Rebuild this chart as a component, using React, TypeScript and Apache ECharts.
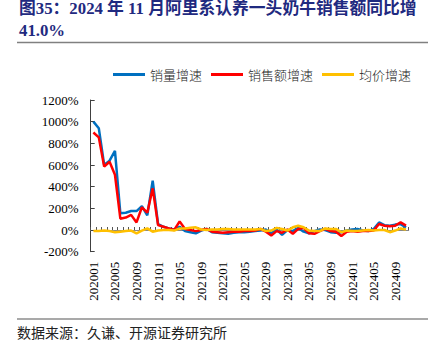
import React, { useEffect, useRef } from "react";
import * as echarts from "echarts";

const months: string[] = [
  "202001","202002","202003","202004","202005","202006","202007","202008","202009","202010","202011","202012",
  "202101","202102","202103","202104","202105","202106","202107","202108","202109","202110","202111","202112",
  "202201","202202","202203","202204","202205","202206","202207","202208","202209","202210","202211","202212",
  "202301","202302","202303","202304","202305","202306","202307","202308","202309","202310","202311","202312",
  "202401","202402","202403","202404","202405","202406","202407","202408","202409","202410","202411",
];

const volumeGrowth: number[] = [
  1000, 940, 600, 640, 730, 155, 160, 175, 175, 220, 135, 455,
  55, 30, 15, 5, 30, -10, -20, -30, -5, 10, -20, -25,
  -30, -35, -25, -20, -20, -15, -10, -5, 5, -30, 5, -45,
  0, -10, 20, -15, -30, -10, 5, 0, -20, -25, -20, -5,
  5, 10, -5, -10, 10, 70, 45, 40, 50, 55, 25,
];

const salesGrowth: number[] = [
  900, 855, 585, 630, 510, 105, 115, 140, 70, 210, 160, 385,
  45, 30, 15, 0, 80, 10, 0, -10, 0, 10, -15, -20,
  -25, -20, -15, -15, -10, -10, -5, 10, -15, -50, -10, -25,
  5, -35, 10, 20, -30, -35, -10, 10, -10, -15, -55, -15,
  -10, -15, -10, -10, -5, 55, 40, 35, 40, 70, 41,
];

const priceGrowth: number[] = [
  -10, -8, -5, -10, -20, -15, -10, -5, -30, -5, 15, -15,
  -5, 0, 0, -5, 15, 15, 20, 25, 5, 0, 5, 5,
  10, 10, 5, 5, 5, 5, 5, 10, -10, -5, 20, 10,
  -5, 25, 40, 25, -5, -10, -10, 15, 10, 10, -20, -5,
  -10, -10, -5, 0, -5, 0, 0, -20, -5, 15, 5,
];

const seriesNames: string[] = ["销量增速", "销售额增速", "均价增速"];
const seriesColors: string[] = ["#0070C0", "#FF0000", "#FFC000"];

const titleLine1 = "图35：2024 年 11 月阿里系认养一头奶牛销售额同比增";
const titleLine2 = "41.0%";
const sourceText = "数据来源：久谦、开源证券研究所";

const SERIF = "'Liberation Serif', 'Noto Sans CJK SC', serif";
const CJK = "'Noto Sans CJK SC', sans-serif";

export default function App() {
  const ref = useRef<HTMLDivElement>(null);

  useEffect(() => {
    if (!ref.current) return;
    const chart = echarts.init(ref.current, undefined, { renderer: "svg" });
    const data = [volumeGrowth, salesGrowth, priceGrowth];
    chart.setOption({
      animation: false,
      backgroundColor: "#ffffff",
      grid: { left: 90.7, right: 35.3, top: 100, bottom: 102.3, containLabel: false },
      legend: {
        data: seriesNames,
        left: 108,
        top: 63,
        icon: "rect",
        itemWidth: 32,
        itemHeight: 3,
        itemGap: 9,
        textStyle: { fontSize: 13, color: "#222", fontFamily: CJK, fontWeight: 300 },
      },
      xAxis: [
        {
          type: "category",
          data: months,
          boundaryGap: true,
          axisLine: { show: true, onZero: true, lineStyle: { color: "#888", width: 1 } },
          axisTick: { show: true, inside: true, length: 3, interval: 0, lineStyle: { color: "#555" } },
          axisLabel: { show: false },
          splitLine: { show: false },
        },
        {
          type: "category",
          data: months,
          position: "bottom",
          boundaryGap: true,
          axisLine: { show: false, onZero: false },
          axisTick: { show: false },
          axisLabel: {
            show: true,
            interval: 3,
            rotate: 90,
            margin: 10,
            fontSize: 13,
            color: "#000",
            fontFamily: SERIF,
          },
          splitLine: { show: false },
        },
      ],
      yAxis: {
        type: "value",
        min: -200,
        max: 1200,
        interval: 200,
        axisLine: { show: true, lineStyle: { color: "#404040", width: 1 } },
        axisTick: { show: true, inside: true, length: 4, lineStyle: { color: "#404040" } },
        axisLabel: {
          formatter: (v: number) => `${v}%`,
          fontSize: 13,
          color: "#000",
          fontFamily: SERIF,
          margin: 12,
        },
        splitLine: { show: false },
      },
      series: seriesNames.map((name, i) => ({
        name,
        type: "line",
        xAxisIndex: 0,
        data: data[i],
        symbol: "none",
        z: i + 2,
        lineStyle: { color: seriesColors[i], width: 2.5 },
        itemStyle: { color: seriesColors[i] },
      })),
      graphic: [
        {
          type: "text",
          left: 19,
          top: 0,
          style: {
            text: titleLine1,
            font: `bold 16.8px ${SERIF}`,
            fill: "#1f2a80",
          },
        },
        {
          type: "text",
          left: 19,
          top: 22,
          style: {
            text: titleLine2,
            font: `bold 16.8px ${SERIF}`,
            fill: "#1f2a80",
          },
        },
        {
          type: "line",
          shape: { x1: 17, y1: 42.5, x2: 428, y2: 42.5 },
          style: { stroke: "#808080", lineWidth: 1.5 },
        },
        {
          type: "line",
          shape: { x1: 17, y1: 319, x2: 428, y2: 319 },
          style: { stroke: "#555", lineWidth: 1.2 },
        },
        {
          type: "text",
          left: 17,
          top: 325,
          style: {
            text: sourceText,
            font: `14px ${CJK}`,
            fill: "#222",
          },
        },
      ],
    });
    return () => chart.dispose();
  }, []);

  return (
    <div
      ref={ref}
      style={{ position: "fixed", left: 0, top: 0, width: 444, height: 354 }}
    />
  );
}
